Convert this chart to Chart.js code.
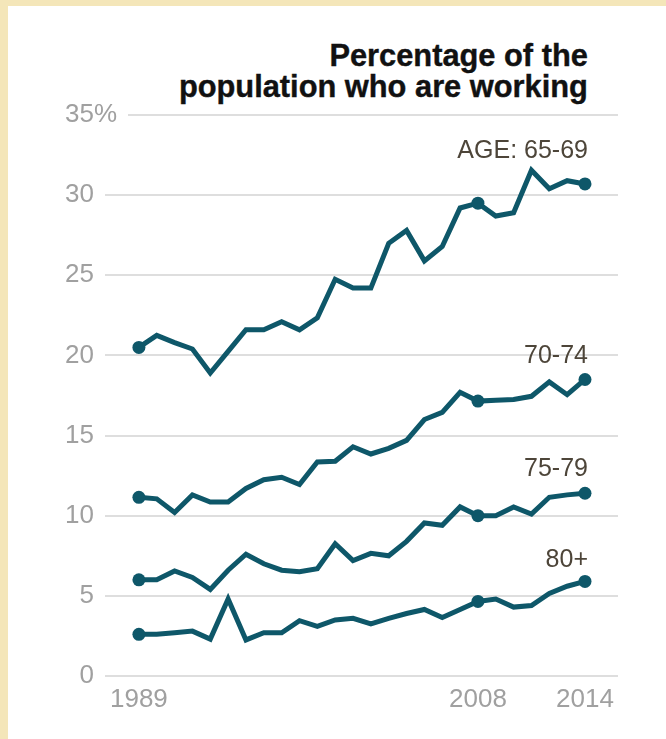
<!DOCTYPE html>
<html>
<head>
<meta charset="utf-8">
<script src="https://cdn.jsdelivr.net/npm/chart.js@4"></script>
<style>
  html, body { margin: 0; padding: 0; }
  body { width: 666px; height: 739px; background: #f4e6b9; position: relative; overflow: hidden; }
  #card { position: absolute; left: 8px; top: 6px; right: 0; bottom: 0; background: #fff; }
  #title {
    position: absolute; right: 78px; top: 40px;
    font-family: "Liberation Sans", Arial, sans-serif; font-weight: bold;
    font-size: 32px; line-height: 31px; color: #111; text-align: right;
    -webkit-text-stroke: 0.4px #111;
    transform-origin: right top; white-space: nowrap;
  }
  #title span { display: block; }
  canvas { position: absolute; left: 0; top: 0; }
</style>
</head>
<body>
<div id="card"></div>
<div id="title"><span>Percentage of the</span><span id="t2">population who are working</span></div>
<canvas id="chart" width="666" height="739"></canvas>
<script>
const years = [1989, 1990, 1991, 1992, 1993, 1994, 1995, 1996, 1997, 1998, 1999, 2000, 2001,
  2002, 2003, 2004, 2005, 2006, 2007, 2008, 2009, 2010, 2011, 2012, 2013, 2014];

const age6569 = [20.5, 21.25, 20.8, 20.4, 18.9, 20.25, 21.6, 21.6, 22.1, 21.6, 22.35, 24.75, 24.2,
  24.2, 27.0, 27.8, 25.9, 26.8, 29.2, 29.5, 28.7, 28.9, 31.55, 30.4, 30.9, 30.7];
const age7074 = [11.15, 11.05, 10.2, 11.3, 10.85, 10.85, 11.7, 12.25, 12.4, 11.95, 13.35, 13.4, 14.3,
  13.85, 14.2, 14.7, 16.0, 16.45, 17.7, 17.15, 17.2, 17.25, 17.45, 18.35, 17.55, 18.5];
const age7579 = [6.0, 6.0, 6.55, 6.15, 5.4, 6.6, 7.6, 7.0, 6.6, 6.5, 6.7, 8.25, 7.2,
  7.65, 7.5, 8.4, 9.55, 9.4, 10.55, 10.0, 10.0, 10.55, 10.1, 11.15, 11.3, 11.4];
const age80 = [2.6, 2.6, 2.7, 2.8, 2.3, 4.8, 2.25, 2.7, 2.7, 3.45, 3.1, 3.5, 3.6,
  3.25, 3.6, 3.9, 4.15, 3.65, 4.15, 4.65, 4.8, 4.3, 4.4, 5.15, 5.6, 5.9];

const seriesLabels = ["AGE: 65-69", "70-74", "75-79", "80+"];
const markerYears = [1989, 2008, 2014];
const xTicks = [1989, 2008, 2014];
const yTicks = [0, 5, 10, 15, 20, 25, 30, 35];

const lineColor = "#0e5769";

// fit the headline to the width of the original
const t2 = document.getElementById("t2");
const titleScale = 409 / t2.getBoundingClientRect().width;
document.getElementById("title").style.transform = `scaleX(${titleScale})`;

const gridAndLabels = {
  id: "gridAndLabels",
  beforeDatasetsDraw(chart) {
    const { ctx, chartArea, scales } = chart;
    ctx.save();
    ctx.strokeStyle = "#dedede";
    ctx.lineWidth = 2;
    yTicks.forEach(v => {
      const y = Math.round(scales.y.getPixelForValue(v));
      const left = v === 35 ? 128 : chartArea.left;
      ctx.beginPath();
      ctx.moveTo(left, y);
      ctx.lineTo(chartArea.right, y);
      ctx.stroke();
    });
    // the % sign hangs after the top tick number
    ctx.fillStyle = "#a0a0a0";
    ctx.font = "26px 'Liberation Sans', Arial, sans-serif";
    ctx.textAlign = "left";
    ctx.textBaseline = "middle";
    ctx.fillText("%", chartArea.left - 11, scales.y.getPixelForValue(35));
    ctx.restore();
  },
  afterDatasetsDraw(chart) {
    const { ctx, scales } = chart;
    const labelDy = [-26, -16, -17, -14];
    ctx.save();
    ctx.fillStyle = "#4d4539";
    ctx.font = "25px 'Liberation Sans', Arial, sans-serif";
    ctx.textAlign = "right";
    ctx.textBaseline = "alphabetic";
    chart.data.datasets.forEach((ds, i) => {
      const last = ds.data[ds.data.length - 1];
      const x = scales.x.getPixelForValue(last.x) + 3;
      const y = scales.y.getPixelForValue(last.y) + labelDy[i];
      ctx.fillText(seriesLabels[i], x, y);
    });
    ctx.restore();
  }
};

const makeSet = (label, values) => ({
  label: label,
  data: values.map((v, i) => ({ x: years[i], y: v })),
  borderColor: lineColor,
  backgroundColor: lineColor,
  borderWidth: 5,
  pointRadius: c => markerYears.includes(years[c.dataIndex]) ? 6.5 : 0,
  pointBorderWidth: 0,
  pointHoverRadius: 0,
  tension: 0,
  clip: false
});

new Chart(document.getElementById("chart"), {
  type: "line",
  data: {
    datasets: [
      makeSet(seriesLabels[0], age6569),
      makeSet(seriesLabels[1], age7074),
      makeSet(seriesLabels[2], age7579),
      makeSet(seriesLabels[3], age80)
    ]
  },
  options: {
    responsive: false,
    animation: false,
    events: [],
    layout: {
      padding: { left: 0, right: 48, top: 115, bottom: 23 }
    },
    plugins: {
      legend: { display: false },
      tooltip: { enabled: false }
    },
    scales: {
      x: {
        type: "linear",
        min: 1987.1,
        max: 2015.85,
        afterBuildTicks: s => { s.ticks = xTicks.map(v => ({ value: v })); },
        afterFit: s => { s.height = 40; },
        grid: { display: false, drawTicks: false },
        border: { display: false },
        ticks: {
          color: "#a0a0a0",
          font: { family: "'Liberation Sans', Arial, sans-serif", size: 26 },
          padding: 8,
          maxRotation: 0,
          autoSkip: false,
          callback: v => String(v)
        }
      },
      y: {
        min: 0,
        max: 35,
        afterBuildTicks: s => { s.ticks = yTicks.map(v => ({ value: v })); },
        afterFit: s => { s.width = 105; },
        grid: { display: false, drawTicks: false },
        border: { display: false },
        ticks: {
          color: "#a0a0a0",
          font: { family: "'Liberation Sans', Arial, sans-serif", size: 26 },
          padding: 11,
          callback: v => String(v)
        }
      }
    }
  },
  plugins: [gridAndLabels]
});
</script>
</body>
</html>
